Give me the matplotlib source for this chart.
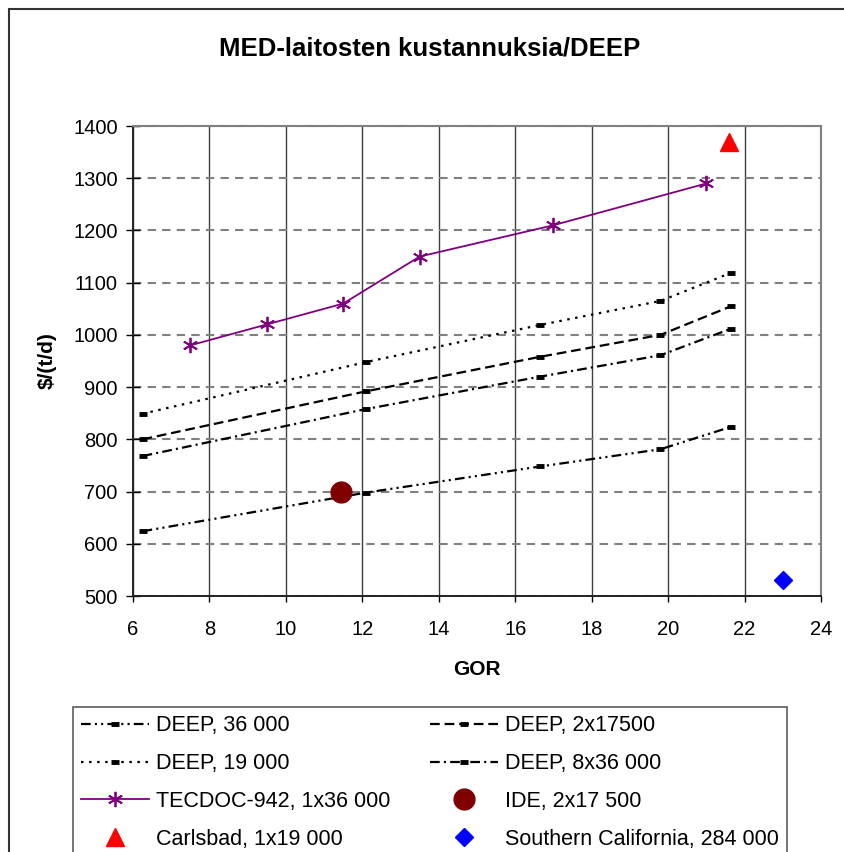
import matplotlib
matplotlib.use("Agg")
import matplotlib.pyplot as plt
from matplotlib.patches import Rectangle

plt.rcParams['font.family'] = ['Liberation Sans', 'DejaVu Sans']
plt.rcParams['lines.scale_dashes'] = False

# GOR values where the DEEP curves have markers
deep_x = [6.25, 12.1, 16.65, 19.8, 21.65]
deep_36000 = [624, 698, 748, 781, 824]
deep_2x17500 = [800, 892, 958, 1000, 1055]
deep_19000 = [849, 948, 1019, 1065, 1119]
deep_8x36000 = [768, 858, 920, 961, 1012]

tecdoc_x = [7.5, 9.5, 11.5, 13.5, 17, 21]
tecdoc_y = [980, 1020, 1060, 1150, 1210, 1290]

ide_x, ide_y = [11.45], [700]
carlsbad_x, carlsbad_y = [21.6], [1370]
socal_x, socal_y = [23], [530]

xticks = list(range(6, 25, 2))
yticks = list(range(500, 1401, 100))

W, H = 844, 852
fig = plt.figure(figsize=(W / 100, H / 100), dpi=100)
ax = fig.add_axes([133 / W, 1 - 596 / H, (821 - 133) / W, (596 - 126) / H])

deep_kw = dict(color='black', lw=1.6, marker='_', ms=6, mew=3.5)
l36, = ax.plot(deep_x, deep_36000, dashes=(7, 3, 1.5, 3, 1.5, 3), label='DEEP, 36 000', **deep_kw)
l19, = ax.plot(deep_x, deep_19000, dashes=(1.8, 4), label='DEEP, 19 000', **deep_kw)
l2x, = ax.plot(deep_x, deep_2x17500, dashes=(7, 3.5), label='DEEP, 2x17500', **deep_kw)
l8x, = ax.plot(deep_x, deep_8x36000, dashes=(7, 3, 1.5, 3), label='DEEP, 8x36 000', **deep_kw)

ltec, = ax.plot(tecdoc_x, tecdoc_y, color='#800080', lw=1.3, marker=(6, 2, 0), ms=11,
                mew=1.3, label='TECDOC-942, 1x36 000')
lide, = ax.plot(ide_x, ide_y, ls='none', marker='o', ms=15, color='#800000', label='IDE, 2x17 500')
lcar, = ax.plot(carlsbad_x, carlsbad_y, ls='none', marker='^', ms=13, color='#ff0000',
                label='Carlsbad, 1x19 000')
lsoc, = ax.plot(socal_x, socal_y, ls='none', marker='D', ms=9, color='#0000ff',
                label='Southern California, 284 000')

ax.set_xlim(6, 24)
ax.set_ylim(500, 1400)
ax.set_xticks(xticks)
ax.set_yticks(yticks)

ax.yaxis.grid(True, color='#808080', lw=1.5, dashes=(6, 4.5))
ax.xaxis.grid(True, color='#404040', lw=1.0)
ax.set_axisbelow(True)

for s in ['top', 'right']:
    ax.spines[s].set_color('#808080')
    ax.spines[s].set_linewidth(1.5)
for s in ['left', 'bottom']:
    ax.spines[s].set_color('#222222')
    ax.spines[s].set_linewidth(1.4)

ax.tick_params(axis='y', direction='inout', length=10, width=1, labelsize=14.5, pad=6)
ax.tick_params(axis='x', direction='out', length=4.5, width=1, labelsize=14.5, pad=13)

ax.set_xlabel('GOR', fontsize=15, fontweight='bold', labelpad=15)
ax.set_ylabel('$/(t/d)', fontsize=15, fontweight='bold', labelpad=12)

fig.text(430 / W, 1 - 48 / H, 'MED-laitosten kustannuksia/DEEP', ha='center', va='center',
         fontsize=18.5, fontweight='bold')

handles = [l36, l19, ltec, lcar, l2x, l8x, lide, lsoc]
leg = fig.legend(handles=handles, labels=[h.get_label() for h in handles], ncol=2,
                 loc='upper left', bbox_to_anchor=(73 / W, 1 - 707 / H, (787 - 73) / W, 0),
                 bbox_transform=fig.transFigure, mode='expand', borderaxespad=0,
                 fontsize=15.5, frameon=True, fancybox=False, handlelength=3.15,
                 handletextpad=0.33, labelspacing=0.78, borderpad=0.39)
leg.get_frame().set_edgecolor('#333333')
leg.get_frame().set_linewidth(1.2)

fig.add_artist(Rectangle((9 / W, -0.1), 1.2, 1.1 - 9 / H, transform=fig.transFigure,
                         fill=False, ec='#333333', lw=1.5))

fig.savefig('out.png', dpi=100)
